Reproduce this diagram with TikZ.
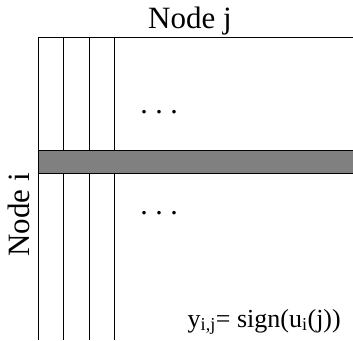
\documentclass[tikz,border=0pt]{standalone}
\usepackage{fontspec}
\setmainfont{Liberation Serif}
\usetikzlibrary{positioning}

\tikzset{
  grid line/.style={line width=0.9pt},
  row bar/.style={line width=0.9pt, fill=gray},
  label text/.style={font=\fontsize{31}{33}\selectfont, inner sep=0pt},
  dots text/.style={font=\fontsize{30}{32}\selectfont, inner sep=0pt},
}

\begin{document}
\begin{tikzpicture}[x=1pt, y=-1pt]
  \useasboundingbox (0,0) rectangle (353,340);
  % matrix frame (top edge and columns)
  \draw[grid line] (353,37) -- (38,37) -- (38,340);
  \foreach \cx in {63.5, 89, 114.5} {
    \draw[grid line] (\cx,37) -- (\cx,340);
  }
  % highlighted row i
  \draw[row bar] (38,150) rectangle (354,173);
  % labels
  \node[label text, anchor=base] (nodej) at (190,28) {Node j};
  \node[label text, anchor=base, rotate=90] (nodei) at (29,215) {Node i};
  \node[dots text, anchor=base] (dotsup) at (159,113) {.\hspace{7.5pt}.\hspace{7.5pt}.};
  \node[dots text, anchor=base] (dotsdown) at (159,214) {.\hspace{7.5pt}.\hspace{7.5pt}.};
  \node[font=\fontsize{26}{28}\selectfont, inner sep=0pt, anchor=base east] (rule) at (341,327)
    {y\textsubscript{i,j}= sign(u\textsubscript{i}(j))};
\end{tikzpicture}
\end{document}
